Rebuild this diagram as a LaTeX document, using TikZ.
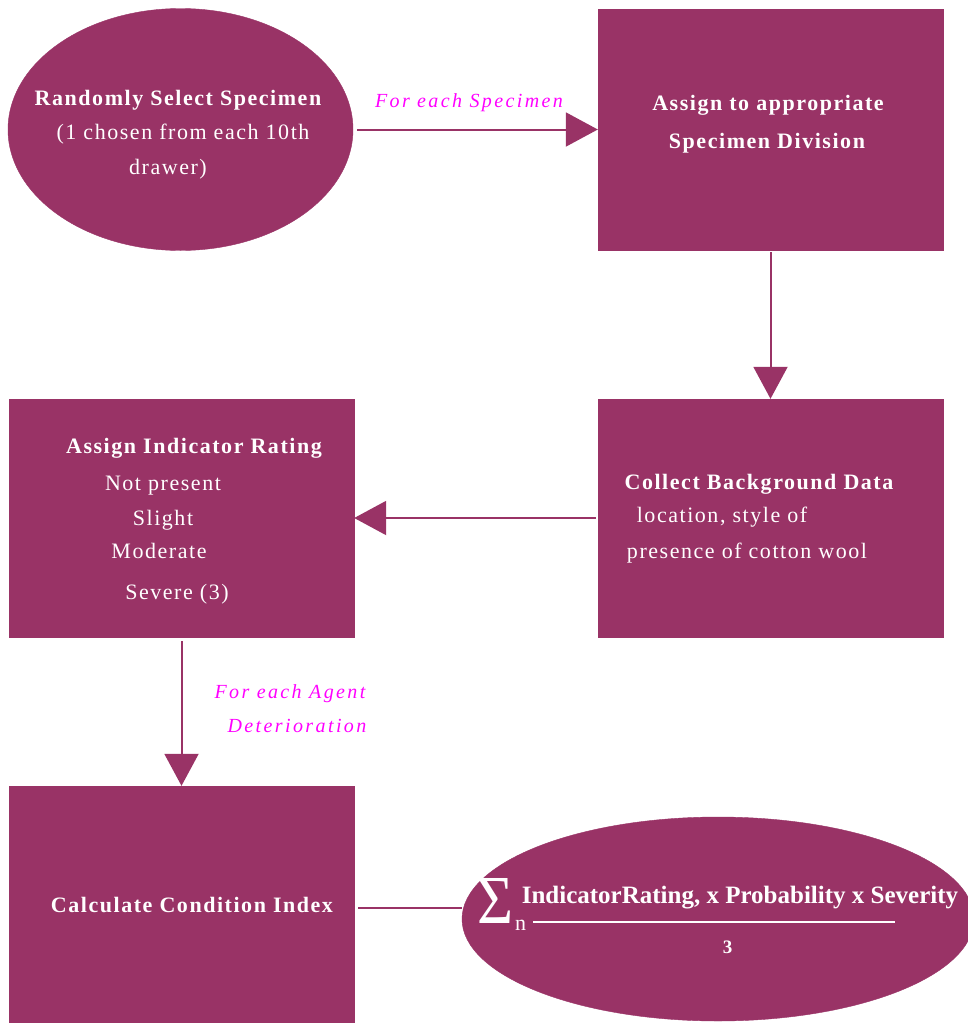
\documentclass[tikz,border=0pt]{standalone}
\usepackage{fontspec}
\usepackage{graphicx}
\setmainfont{Liberation Serif}
\newfontfamily\widefont[LetterSpace=7]{Liberation Serif}
\newfontfamily\widerfont[LetterSpace=12]{Liberation Serif}
\usetikzlibrary{shapes.geometric,arrows.meta}
\definecolor{plum}{RGB}{153,51,102}
\definecolor{labelmag}{RGB}{255,0,255}
\tikzset{
  boxnode/.style={rectangle, fill=plum, draw=plum, inner sep=0pt},
  ovalnode/.style={ellipse, fill=plum, draw=plum, inner sep=0pt},
  headtxt/.style={text=white, inner sep=0pt, anchor=base, font=\widefont\bfseries\fontsize{22}{26}\selectfont},
  bodytxt/.style={text=white, inner sep=0pt, anchor=base, font=\widefont\fontsize{22}{26}\selectfont},
  flowlabel/.style={text=labelmag, inner sep=0pt, anchor=base, font=\widerfont\itshape\fontsize{20}{24}\selectfont},
  formtxt/.style={text=white, inner sep=0pt, anchor=base, font=\bfseries\fontsize{25}{30}\selectfont},
  conn/.style={plum, line width=2pt},
  flowarrow/.style={conn, -{Triangle[length=32pt,width=34pt]}}
}
\begin{document}
\begin{tikzpicture}[x=1pt,y=-1pt]
\useasboundingbox (0,0) rectangle (967,1023);
% shapes
\node[ovalnode, minimum width=345pt, minimum height=242pt] (e1) at (180.5,129.5) {};
\node[boxnode, minimum width=345pt, minimum height=241pt] (b1) at (770.5,129.5) {};
\node[boxnode, minimum width=345pt, minimum height=238pt] (b2) at (770.5,518) {};
\node[boxnode, minimum width=345pt, minimum height=238pt] (b3) at (181.5,518) {};
\node[boxnode, minimum width=345pt, minimum height=244pt] (b4) at (181.5,908) {};
\node[ovalnode, minimum width=512pt, minimum height=204pt] (e2) at (718,919) {};
% connectors
\draw[flowarrow, shorten <=4pt] (e1.east) -- (b1.west);
\draw[flowarrow, shorten <=2pt] (b1.south) -- (b2.north);
\draw[flowarrow, shorten <=2pt] (b2.west) -- (b3.east);
\draw[flowarrow, shorten <=4pt] (b3.south) -- (b4.north);
\draw[conn, shorten <=4pt] (b4.east) -- (b4.east -| e2.west);
% connector labels
\node[flowlabel] (l1) at (469,107) {For each Specimen};
\node[flowlabel] (l2) at (290,698) {For each Agent};
\node[flowlabel] (l3) at (297,732) {Deterioration};
% ellipse 1 text
\node[headtxt] (t11) at (178,105) {Randomly Select Specimen};
\node[bodytxt] (t12) at (183,139) {(1 chosen from each 10th};
\node[bodytxt] (t13) at (168,174) {drawer)};
% box 1 text
\node[headtxt] (t21) at (768,110) {Assign to appropriate};
\node[headtxt] (t22) at (767,148) {Specimen Division};
% box 2 text
\node[headtxt] (t31) at (759,489) {Collect Background Data};
\node[bodytxt] (t32) at (722,522) {location, style of};
\node[bodytxt] (t33) at (747,558) {presence of cotton wool};
% box 3 text
\node[headtxt] (t41) at (194,453) {Assign Indicator Rating};
\node[bodytxt] (t42) at (163,490) {Not present};
\node[bodytxt] (t43) at (163,525) {Slight};
\node[bodytxt] (t44) at (159,558) {Moderate};
\node[bodytxt] (t45) at (177,599) {Severe (3)};
% box 4 text
\node[headtxt] (t51) at (192,912) {Calculate Condition Index};
% formula
\node[text=white, inner sep=0pt] (sig) at (495,900.5) {\resizebox*{36pt}{45pt}{Σ}};
\node[text=white, inner sep=0pt, anchor=base, font=\fontsize{22}{26}\selectfont] (sub) at (520.5,930) {n};
\node[formtxt] (num) at (740,903) {IndicatorRating, x Probability x Severity};
\draw[white, line width=1.3pt] (533,922) -- (895,922);
\node[text=white, inner sep=0pt, anchor=base, font=\bfseries\fontsize{19}{22}\selectfont] (den) at (727.5,953) {3};
\end{tikzpicture}
\end{document}
